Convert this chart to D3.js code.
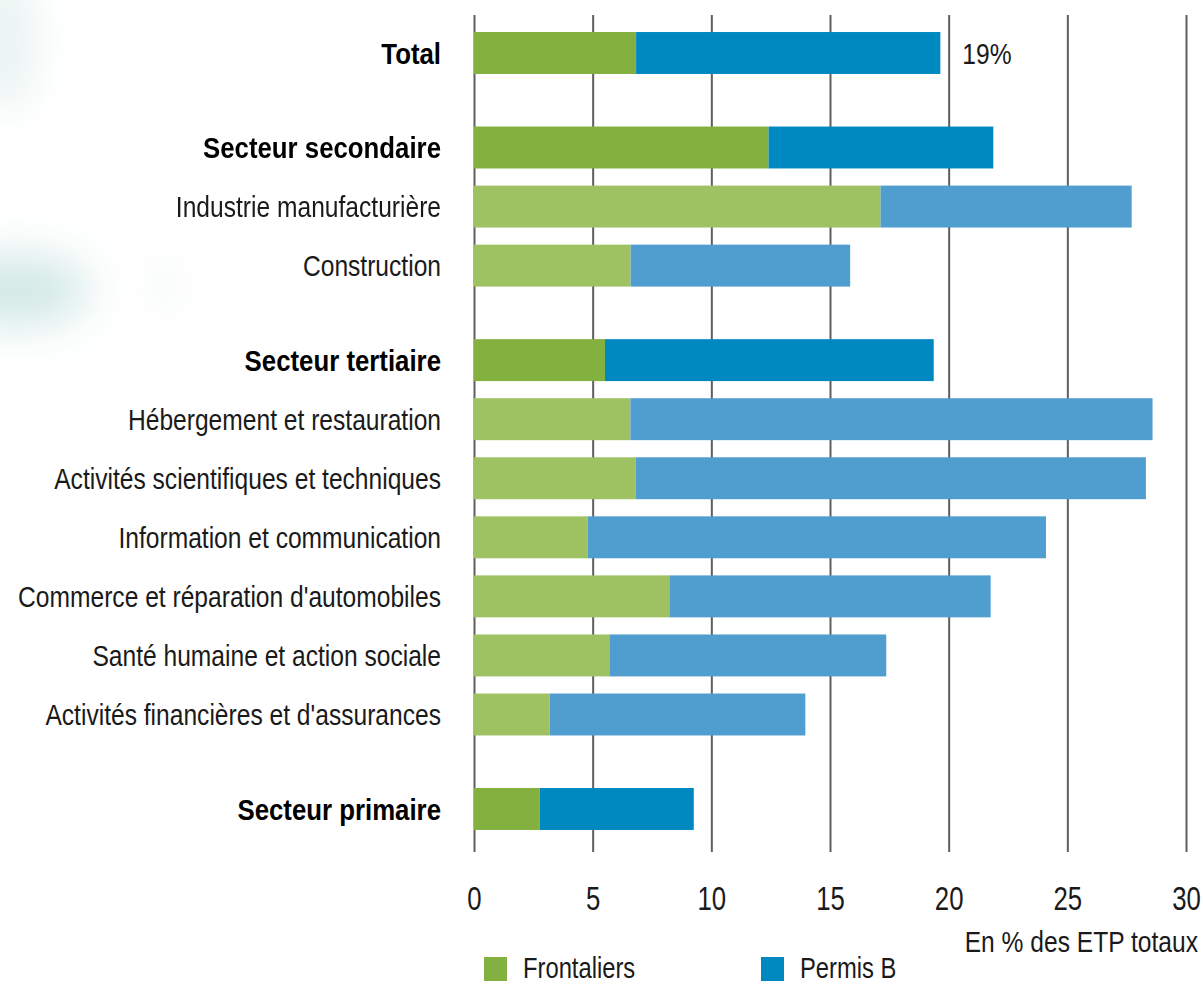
<!DOCTYPE html>
<html>
<head>
<meta charset="utf-8">
<script src="https://cdn.jsdelivr.net/npm/d3@7"></script>
<style>
  html, body { margin: 0; padding: 0; background: #ffffff; }
  svg { display: block; }
  text { font-family: "Liberation Sans", Arial, sans-serif; }
</style>
</head>
<body>
<svg id="chart" width="1203" height="984"></svg>
<script>
// ---- data ----
const categories = [
  "Total",
  "Secteur secondaire",
  "Industrie manufacturière",
  "Construction",
  "Secteur tertiaire",
  "Hébergement et restauration",
  "Activités scientifiques et techniques",
  "Information et communication",
  "Commerce et réparation d'automobiles",
  "Santé humaine et action sociale",
  "Activités financières et d'assurances",
  "Secteur primaire"
];
const frontaliers = [6.83, 12.41, 17.13, 6.60, 5.52, 6.59, 6.82, 4.79, 8.23, 5.73, 3.19, 2.77];
const permisB     = [12.82, 9.47, 10.58, 9.25, 13.85, 22.00, 21.49, 19.31, 13.54, 11.64, 10.77, 6.49];
const isSector    = [true, true, false, false, true, false, false, false, false, false, false, true];
const groupIndex  = [0, 1, 1, 1, 2, 2, 2, 2, 2, 2, 2, 3];
const seriesNames = ["Frontaliers", "Permis B"];
const xTicks      = [0, 5, 10, 15, 20, 25, 30];
const totalLabel  = "19%";
const axisTitle   = "En % des ETP totaux";

// ---- styles ----
const darkColors  = ["#83b03f", "#0089c1"];
const lightColors = ["#9ec162", "#4f9ecf"];
const gridColor   = "#5e5e5e";
const fontSize    = 30;
const squeeze     = 0.82;
const squeezeBold = 0.86;
const groupGap    = 0.6;
const barFrac     = 0.71;

const svg = d3.select("#chart");

// faint background blobs
const defs = svg.append("defs");
defs.append("filter").attr("id", "blur").attr("x", "-100%").attr("y", "-100%")
  .attr("width", "300%").attr("height", "300%")
  .append("feGaussianBlur").attr("stdDeviation", 22);
const bg = svg.append("g").attr("filter", "url(#blur)");
bg.append("ellipse").attr("cx", 5).attr("cy", 40).attr("rx", 28).attr("ry", 70).attr("fill", "#dcede9").attr("opacity", 0.7);
bg.append("ellipse").attr("cx", 15).attr("cy", 290).attr("rx", 75).attr("ry", 36).attr("fill", "#c3e1dc").attr("opacity", 0.75);
bg.append("ellipse").attr("cx", 165).attr("cy", 285).attr("rx", 12).attr("ry", 40).attr("fill", "#f0f6f4").attr("opacity", 0.7);

// ---- scales ----
const x = d3.scaleLinear().domain([0, 30]).range([474, 1186]);
const slots = categories.map((c, i) => i + groupGap * groupIndex[i]);
const y = d3.scaleLinear().domain([0, d3.max(slots)]).range([53, 809]);
const barH = y(barFrac) - y(0);

// ---- grid / axis ----
const gridTop = 15, gridBottom = 852;
const axis = d3.axisBottom(x)
  .tickValues(xTicks)
  .tickFormat(d3.format("d"))
  .tickSizeInner(-(gridBottom - gridTop))
  .tickSizeOuter(0)
  .tickPadding(35);
const gAxis = svg.append("g").attr("transform", `translate(0,${gridBottom})`).call(axis);
gAxis.select(".domain").remove();
gAxis.selectAll(".tick line").attr("stroke", gridColor).attr("stroke-width", 2);
gAxis.selectAll(".tick text")
  .attr("fill", "#1a1a1a")
  .style("font-size", "33px")
  .attr("font-family", null)
  .attr("transform", `scale(0.78,1)`);

// ---- bars ----
const rows = categories.map((c, i) => ({ cat: c, i, Frontaliers: frontaliers[i], "Permis B": permisB[i] }));
const stacked = d3.stack().keys(seriesNames)(rows);
const gBars = svg.append("g");
stacked.forEach((layer, k) => {
  gBars.selectAll(null).data(layer).enter().append("rect")
    .attr("x", d => x(d[0]))
    .attr("width", d => x(d[1]) - x(d[0]))
    .attr("y", d => y(slots[d.data.i]) - barH / 2)
    .attr("height", barH)
    .attr("fill", d => isSector[d.data.i] ? darkColors[k] : lightColors[k]);
});

// ---- category labels ----
const gLabels = svg.append("g");
categories.forEach((c, i) => {
  gLabels.append("text")
    .attr("transform", `translate(441,${y(slots[i]) + fontSize * 0.36}) scale(${isSector[i] ? squeezeBold : squeeze},1)`)
    .attr("text-anchor", "end")
    .attr("fill", isSector[i] ? "#000" : "#1a1a1a")
    .attr("font-weight", isSector[i] ? "bold" : "normal")
    .style("font-size", fontSize + "px")
    .text(c);
});

// ---- total annotation ----
const totalEnd = frontaliers[0] + permisB[0];
svg.append("text")
  .attr("transform", `translate(${x(totalEnd) + 22},${y(slots[0]) + fontSize * 0.36}) scale(${squeeze},1)`)
  .attr("fill", "#1a1a1a")
  .style("font-size", fontSize + "px")
  .text(totalLabel);

// ---- axis title ----
svg.append("text")
  .attr("transform", `translate(1198,952) scale(${squeeze},1)`)
  .attr("text-anchor", "end")
  .attr("fill", "#1a1a1a")
  .style("font-size", fontSize + "px")
  .text(axisTitle);

// ---- legend ----
const legendX = [484, 761];
const gLeg = svg.append("g");
seriesNames.forEach((s, k) => {
  gLeg.append("rect").attr("x", legendX[k]).attr("y", 957).attr("width", 23).attr("height", 24).attr("fill", darkColors[k]);
  gLeg.append("text")
    .attr("transform", `translate(${legendX[k] + 39},978) scale(${squeeze},1)`)
    .attr("fill", "#1a1a1a")
    .style("font-size", "29px")
    .text(s);
});
</script>
</body>
</html>
